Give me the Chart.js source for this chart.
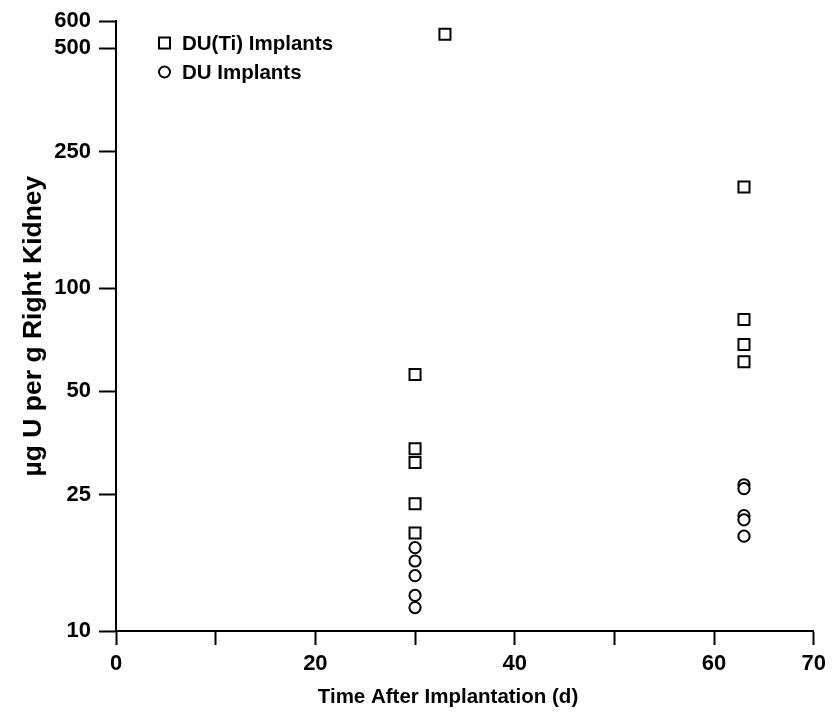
<!DOCTYPE html>
<html>
<head>
<meta charset="utf-8">
<script src="https://cdn.jsdelivr.net/npm/chart.js@4.4.1/dist/chart.umd.min.js"></script>
<style>
  html, body { margin: 0; padding: 0; background: #fff; }
  #wrap { width: 832px; height: 712px; position: relative; }
</style>
</head>
<body>
<div id="wrap"><canvas id="KidneyChart" width="832" height="712"></canvas></div>
<script>
// values: uranium in right kidney vs days after implantation
const duTiDays = [30, 30, 30, 30, 30, 33, 63, 63, 63, 63];
const duTiValues = [56, 34, 31, 23.5, 19.3, 550, 197, 81, 68.5, 61];
const duDays = [30, 30, 30, 30, 30, 63, 63, 63, 63, 63];
const duValues = [17.5, 16, 14.5, 12.7, 11.7, 26.7, 26, 21.7, 21.1, 18.9];
const yTickValues = [10, 25, 50, 100, 250, 500, 600];
const xLabeledTicks = [0, 20, 40, 60, 70];
const xTitle = 'Time After Implantation (d)';

const FONT = '"Liberation Sans", Arial, Helvetica, sans-serif';

const toPoints = (xs, ys) => xs.map((x, i) => ({x: x, y: ys[i]}));

// legend inside the plot (top left) and the x title, which sits a bit left of centre
const extraText = {
  id: 'extraText',
  afterDraw(chart) {
    const ctx = chart.ctx;
    const items = [
      {label: chart.data.datasets[0].label, style: 'rect', y: 43},
      {label: chart.data.datasets[1].label, style: 'circle', y: 72}
    ];
    ctx.save();
    ctx.lineWidth = 2;
    ctx.strokeStyle = '#000';
    ctx.fillStyle = '#000';
    ctx.font = 'bold 20.5px ' + FONT;
    ctx.textBaseline = 'middle';
    items.forEach(item => {
      if (item.style === 'rect') {
        ctx.strokeRect(159, item.y - 5.5, 11, 11);
      } else {
        ctx.beginPath();
        ctx.arc(164.5, item.y, 5.5, 0, Math.PI * 2);
        ctx.stroke();
      }
      ctx.fillText(item.label, 182, item.y + 1);
    });
    ctx.textAlign = 'center';
    ctx.fillText(xTitle, 448, 697);
    ctx.restore();
  }
};

const ctx = document.getElementById('KidneyChart').getContext('2d');
const chart = new Chart(ctx, {
  type: 'scatter',
  data: {
    datasets: [
      {
        label: 'DU(Ti) Implants',
        data: toPoints(duTiDays, duTiValues),
        pointStyle: 'rect',
        pointRadius: 7.8,
        pointBorderWidth: 2,
        borderColor: '#000',
        backgroundColor: '#fff'
      },
      {
        label: 'DU Implants',
        data: toPoints(duDays, duValues),
        pointStyle: 'circle',
        pointRadius: 5.6,
        pointBorderWidth: 2,
        borderColor: '#000',
        backgroundColor: '#fff'
      }
    ]
  },
  options: {
    responsive: false,
    animation: false,
    events: [],
    layout: { padding: { top: 18, right: 16, left: 0, bottom: 0 } },
    plugins: {
      legend: { display: false },
      tooltip: { enabled: false }
    },
    scales: {
      x: {
        type: 'linear',
        min: 0,
        max: 70,
        ticks: {
          stepSize: 10,
          color: '#000',
          padding: 6,
          font: { family: FONT, size: 22, weight: 'bold' },
          callback: v => xLabeledTicks.includes(v) ? String(v) : ''
        },
        grid: { drawOnChartArea: false, drawTicks: true, tickLength: 14, tickWidth: 2, tickColor: '#000' },
        border: { display: true, color: '#000', width: 2 },
        afterFit: scale => { scale.height = 81; }
      },
      y: {
        type: 'logarithmic',
        min: 10,
        max: 600,
        afterBuildTicks: scale => { scale.ticks = yTickValues.map(v => ({value: v})); },
        ticks: {
          color: '#000',
          padding: 8,
          autoSkip: false,
          font: { family: FONT, size: 22, weight: 'bold' },
          callback: v => String(v)
        },
        grid: { drawOnChartArea: false, drawTicks: true, tickLength: 17, tickWidth: 2, tickColor: '#000' },
        border: { display: true, color: '#000', width: 2 },
        title: {
          display: true,
          text: 'µg U per g Right Kidney',
          color: '#000',
          padding: { top: 18, bottom: 0 },
          font: { family: FONT, size: 26.5, weight: 'bold' }
        },
        afterFit: scale => { scale.width = 116; }
      }
    }
  },
  plugins: [extraText]
});
</script>
</body>
</html>
